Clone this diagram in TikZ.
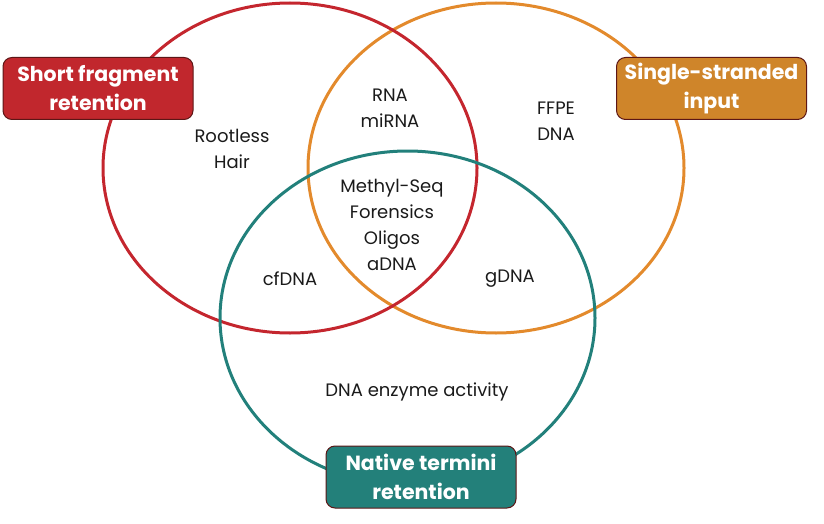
\documentclass[tikz,border=0pt]{standalone}
\usepackage{fontspec}
\setmainfont{Poppins}
\definecolor{cred}{HTML}{C4262E}
\definecolor{corange}{HTML}{E38A2C}
\definecolor{cteal}{HTML}{22807B}
\definecolor{bred}{HTML}{C1272D}
\definecolor{borange}{HTML}{CF852A}
\definecolor{bteal}{HTML}{23807A}
\definecolor{bedge}{HTML}{5C1616}
\definecolor{txt}{HTML}{1A1A1A}
\tikzset{
  circ/.style={line width=3pt},
  catbox/.style={draw=bedge, line width=1pt, rounded corners=9pt, minimum width=190pt, minimum height=62pt, text=white, font=\fontsize{20.5}{29}\selectfont\bfseries, align=center, inner sep=0pt},
  lbl/.style={text=txt, font=\fontsize{18}{26}\selectfont, align=center, inner sep=0pt}
}
\begin{document}
\begin{tikzpicture}[x=1pt,y=-1pt]
\useasboundingbox (0,0) rectangle (824,524);
\draw[circ, draw=corange] (496,168) ellipse [x radius=188, y radius=165];
\draw[circ, draw=cred] (290,168) ellipse [x radius=187, y radius=165];
\draw[circ, draw=cteal] (407.5,318) ellipse [x radius=187.5, y radius=167];
\node[catbox, fill=bred] (sfr) at (98,88.5) {Short fragment\\retention};
\node[catbox, fill=borange] (ssi) at (711.5,88.5) {Single-stranded\\input};
\node[catbox, fill=bteal] (ntr) at (421,477) {Native termini\\retention};
\node[lbl] (rna) at (390,108) {RNA\\miRNA};
\node[lbl] (ffpe) at (556,121) {FFPE\\DNA};
\node[lbl] (hair) at (232,149) {Rootless\\Hair};
\node[lbl] (core) at (392,225) {Methyl-Seq\\Forensics\\Oligos\\aDNA};
\node[lbl] (cf) at (290,279) {cfDNA};
\node[lbl] (gd) at (510,279) {gDNA};
\node[lbl] (enz) at (417,392) {DNA enzyme activity};
\end{tikzpicture}
\end{document}
